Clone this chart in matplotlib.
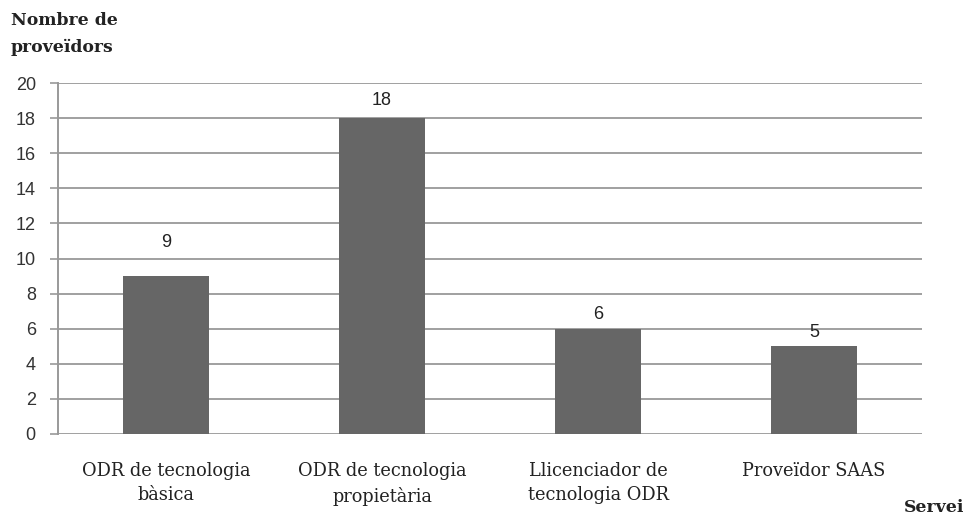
import matplotlib
matplotlib.use("Agg")
import matplotlib.pyplot as plt

categories = ["ODR de tecnologia\nbàsica", "ODR de tecnologia\npropietària",
              "Llicenciador de\ntecnologia ODR", "Proveïdor SAAS"]
values = [9, 18, 6, 5]
label_offsets = [18, 6.5, 4, 3.5]  # points above bar top
yticks = list(range(0, 21, 2))

fig = plt.figure(figsize=(9.68, 5.16), dpi=100)
ax = fig.add_axes([58/968, 1-434/516, (922-58)/968, (434-83)/516])

x = list(range(len(categories)))
ax.bar(x, values, width=0.4, color="#666666", zorder=3)
ax.set_xlim(-0.5, len(categories) - 0.5)
ax.set_ylim(0, 20)
ax.set_yticks(yticks)
ax.set_yticklabels([str(t) for t in yticks], fontfamily="Liberation Sans", fontsize=13, color="#333333")
ax.set_xticks(x)
ax.set_xticklabels(categories, fontfamily="DejaVu Serif", fontsize=12.8, color="#222222", linespacing=1.45)
ax.tick_params(axis="x", length=0, pad=20)
ax.tick_params(axis="y", length=6, width=1.2, color="#999999", direction="out", pad=10)
ax.grid(axis="y", color="#a0a0a0", linewidth=1.4, zorder=0)
for s in ["top", "right", "bottom"]:
    ax.spines[s].set_visible(False)
ax.spines["left"].set_color("#999999")
ax.spines["left"].set_linewidth(1.4)

for xi, v, off in zip(x, values, label_offsets):
    ax.annotate(str(v), (xi, v), xytext=(0, off), textcoords="offset points",
                ha="center", va="bottom", fontfamily="Liberation Sans", fontsize=13, color="#222222")

fig.text(11/968, 1-12/516, "Nombre de\nproveïdors", ha="left", va="top",
         fontfamily="DejaVu Serif", fontweight="bold", fontsize=12.4, color="#222222", linespacing=1.75)
fig.text(964/968, 1-508/516, "Servei", ha="right", va="center",
         fontfamily="DejaVu Serif", fontweight="bold", fontsize=12.4, color="#222222")

fig.savefig("out.png", dpi=100)
